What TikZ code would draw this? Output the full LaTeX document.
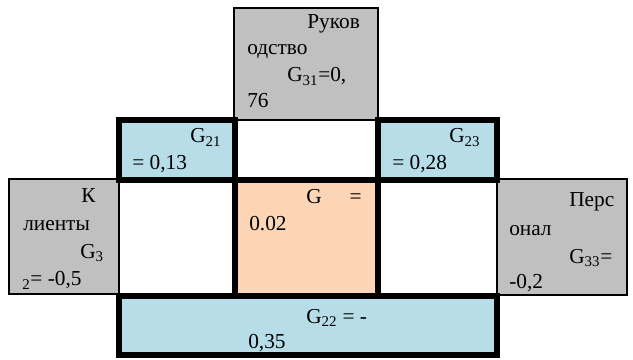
\documentclass[tikz,border=0pt]{standalone}
\usepackage{fontspec}
\setmainfont{Liberation Serif}
\usetikzlibrary{fit}
\definecolor{cellgray}{RGB}{192,192,192}
\definecolor{cellblue}{RGB}{183,222,232}
\definecolor{cellpeach}{RGB}{251,213,181}

\begin{document}
\begin{tikzpicture}[
    x=0.75pt, y=-0.75pt,
    every node/.style={font=\fontsize{16}{20}\selectfont},
    thincell/.style={draw, line width=1.5pt, inner sep=0pt, fill=white},
    thickcell/.style={draw, line width=4.5pt, inner sep=0pt},
    txt/.style={anchor=base west, inner sep=0pt}]

  \useasboundingbox (0,0) rectangle (633,360);

  % thin cells
  \node[thincell, fill=cellgray, fit={(234,8) (378,120)}] (ruk) {};
  \node[thincell, fit={(235,120) (378,180)}] (w2) {};
  \node[thincell, fit={(119,180) (235,296)}] (w3l) {};
  \node[thincell, fit={(378,180) (497,296)}] (w3r) {};
  \node[thincell, fill=cellgray, fit={(8.5,179) (119,294)}] (cli) {};
  \node[thincell, fill=cellgray, fit={(497,179) (627,295)}] (pers) {};

  % thick cells
  \node[thickcell, fill=cellblue, fit={(119,120.5) (235,180)}] (g21) {};
  \node[thickcell, fill=cellblue, fit={(378,120.5) (497,180)}] (g23) {};
  \node[thickcell, fill=cellpeach, fit={(235,180) (378,296)}] (gc) {};
  \node[thickcell, fill=cellblue, fit={(119,296) (497,355)}] (g22) {};

  % Руководство
  \node[txt] (ruk1) at (307,29)  {Руков};
  \node[txt] (ruk2) at (247,55)  {одство};
  \node[txt] (ruk3) at (287,82)  {G\textsubscript{31}=0,};
  \node[txt] (ruk4) at (247,108) {76};

  \node[txt] (g21a) at (190,143) {G\textsubscript{21}};
  \node[txt] (g21b) at (132,170) {= 0,13};
  \node[txt] (g23a) at (449,143) {G\textsubscript{23}};
  \node[txt] (g23b) at (392,170) {= 0,28};

  % Клиенты
  \node[txt] (cli1) at (81,203)  {К};
  \node[txt] (cli2) at (23,231)  {лиенты};
  \node[txt] (cli3) at (80,258)  {G\textsubscript{3}};
  \node[txt] (cli4) at (22,286)  {\textsubscript{2}= -0,5};

  \node[txt] (gc1) at (306,204) {G\hspace{21pt}=};
  \node[txt] (gc2) at (249,231) {0.02};

  % Персонал
  \node[txt] (pers1) at (569,207) {Перс};
  \node[txt] (pers2) at (509,235) {онал};
  \node[txt] (pers3) at (569,263) {G\textsubscript{33}=};
  \node[txt] (pers4) at (509,288) {-0,2};

  \node[txt] (g22a) at (306,323) {G\textsubscript{22} = -};
  \node[txt] (g22b) at (248,348) {0,35};
\end{tikzpicture}
\end{document}
